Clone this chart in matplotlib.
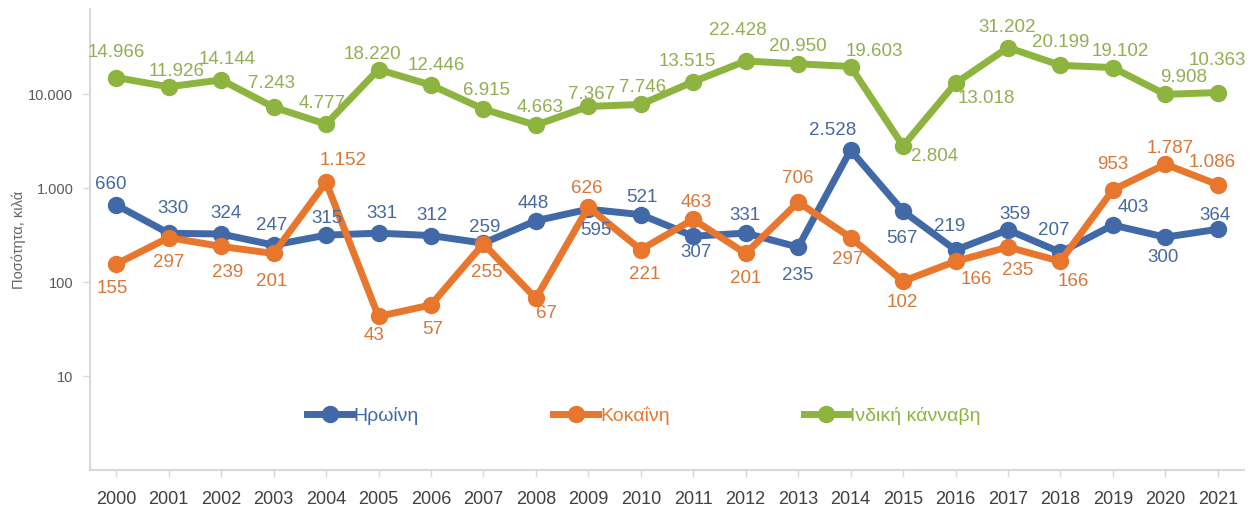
import numpy as np
import matplotlib
matplotlib.use('Agg')
import matplotlib.pyplot as plt
from matplotlib.ticker import FixedLocator, NullLocator

plt.rcParams['font.family'] = ['Liberation Sans', 'DejaVu Sans']

# Data
years = list(range(2000, 2022))
heroin = [660, 330, 324, 247, 315, 331, 312, 259, 448, 595, 521, 307, 331, 235,
          2528, 567, 219, 359, 207, 403, 300, 364]
cocaine = [155, 297, 239, 201, 1152, 43, 57, 255, 67, 626, 221, 463, 201, 706,
           297, 102, 166, 235, 166, 953, 1787, 1086]
cannabis = [14966, 11926, 14144, 7243, 4777, 18220, 12446, 6915, 4663, 7367, 7746,
            13515, 22428, 20950, 19603, 2804, 13018, 31202, 20199, 19102, 9908, 10363]
series_names = ['Ηρωίνη', 'Κοκαΐνη', 'Ινδική κάνναβη']

# label offsets in pixels (dx, dy; dy>0 = below the point)
heroin_off = [(-5, -20), (4, -25), (5, -21), (-2, -20), (1, -17), (3, -20), (1, -20),
              (1, -16), (-3, -17), (8, 21), (1, -17), (3, 16), (-1, -18), (0, 28),
              (-18, -20), (-1, 27), (-6, -23), (7, -15), (-7, -22), (20, -18),
              (-2, 20), (-3, -14)]
cocaine_off = [(-4, 24), (0, 25), (6, 26), (-2, 28), (17, -22), (-4, 19), (2, 25),
               (3, 29), (11, 15), (-2, -19), (4, 25), (3, -17), (0, 25), (0, -24),
               (-3, 22), (-1, 21), (21, 18), (10, 23), (13, 20), (0, -25), (5, -16),
               (-6, -22)]
cannabis_off = [(0, -25), (8, -15), (6, -20), (-2, -24), (-4, -21), (-6, -15), (5, -20),
                (3, -19), (4, -18), (3, -12), (2, -17), (-6, -20), (-8, -31), (0, -17),
                (24, -15), (32, 11), (31, 15), (-1, -20), (0, -23), (7, -16), (18, -17),
                (0, -32)]

line_colors = ['#4169A8', '#E8762C', '#8DB43F']
text_colors = ['#46699F', '#D7783A', '#93AE52']


def fmt(v):
    return f'{v:,}'.replace(',', '.')


fig = plt.figure(figsize=(12.6, 5.09), dpi=100)
ax = fig.add_axes([90 / 1260, 1 - 470 / 509, (1244 - 90) / 1260, (470 - 9.4) / 509])

x = np.arange(len(years))
handles = []
for vals, offs, lc, tc, name in zip([heroin, cocaine, cannabis],
                                    [heroin_off, cocaine_off, cannabis_off],
                                    line_colors, text_colors, series_names):
    h, = ax.plot(x, vals, color=lc, lw=5, marker='o', ms=11.5, mec=lc, mfc=lc,
                 solid_joinstyle='round', label=name, zorder=3)
    handles.append(h)
    for xi, v, (dx, dy) in zip(x, vals, offs):
        ax.annotate(fmt(v), (xi, v), xytext=(dx, -dy), textcoords='offset pixels',
                    ha='center', va='center', fontsize=13.5, color=tc, zorder=4)

ax.set_yscale('log')
ax.set_ylim(1, 10 ** 4.9)
ax.set_xlim(-0.5, len(years) - 0.5)
ax.yaxis.set_major_locator(FixedLocator([10, 100, 1000, 10000]))
ax.yaxis.set_minor_locator(NullLocator())
ax.set_yticklabels(['10', '100', '1.000', '10.000'])
ax.set_xticks(x)
ax.set_xticklabels([str(y) for y in years])

for s in ['top', 'right']:
    ax.spines[s].set_visible(False)
for s in ['left', 'bottom']:
    ax.spines[s].set_color('#D9D9D9')
    ax.spines[s].set_linewidth(1.5)

ax.tick_params(axis='x', length=5, width=1, color='#D9D9D9', labelsize=13,
               labelcolor='#404040', pad=10)
ax.tick_params(axis='y', length=5, width=1, color='#D9D9D9', labelsize=10.5,
               labelcolor='#595959', pad=7)

fig.text(19 / 1260, 1 - 240 / 509, 'Ποσότητα, κιλά', rotation=90, ha='center',
         va='center', fontsize=10.5, color='#666666')

leg = fig.legend(handles=handles, loc='center', bbox_to_anchor=(644 / 1260, 1 - 416 / 509),
                 ncol=3, frameon=False, fontsize=14, handlelength=2.3, handletextpad=0.1,
                 columnspacing=6.9)
for t, c in zip(leg.get_texts(), line_colors):
    t.set_color(c)

fig.savefig('out.png', dpi=100)
